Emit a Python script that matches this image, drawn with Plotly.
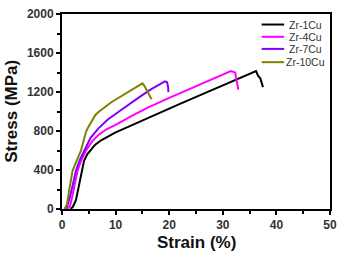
import plotly.graph_objects as go

# ---- data ----
names = ["Zr-1Cu", "Zr-4Cu", "Zr-7Cu", "Zr-10Cu"]
colors = ["#000000", "#FF00FF", "#7F00FF", "#808000"]

strain_1cu = [1.6, 2.0, 2.6, 3.3, 4.1, 4.7, 5.5, 6.2, 7.3, 8.6, 10.0, 11.7, 14.0, 16.0, 18.0,
              20.0, 22.0, 25.0, 28.0, 31.0, 33.7, 34.9, 36.2, 36.6, 37.0, 37.5]
stress_1cu = [0, 20, 90, 291, 492, 560, 620, 660, 705, 744, 785, 827, 885, 935, 983,
              1030, 1078, 1150, 1222, 1295, 1360, 1385, 1415, 1364, 1340, 1250]

strain_4cu = [1.0, 1.5, 2.0, 2.9, 3.6, 4.4, 5.6, 6.8, 8.2, 9.9, 13.2, 16.0, 20.0,
              24.0, 28.0, 30.0, 31.5, 32.3, 32.6, 32.9]
stress_4cu = [0, 30, 150, 392, 500, 593, 693, 760, 815, 861, 960, 1040, 1140,
              1235, 1330, 1378, 1415, 1400, 1320, 1225]

strain_7cu = [0.6, 1.0, 1.6, 2.6, 3.3, 4.1, 5.3, 6.8, 8.5, 10.5, 12.5, 14.5, 16.5, 18.3,
              19.2, 19.6, 19.8, 19.85]
stress_7cu = [0, 30, 150, 392, 500, 593, 727, 827, 915, 995, 1075, 1150, 1225, 1285,
              1310, 1300, 1250, 1199]

strain_10cu = [0.45, 0.9, 1.3, 1.97, 2.7, 3.5, 4.5, 5.0, 6.2, 6.8, 9.2, 12.3, 15.0, 15.4,
               16.0, 16.7]
stress_10cu = [0, 40, 180, 392, 490, 593, 794, 850, 962, 995, 1095, 1196, 1288, 1260,
               1200, 1125]

x_ticks = [0, 10, 20, 30, 40, 50]
y_ticks = [0, 400, 800, 1200, 1600, 2000]

series = [(strain_1cu, stress_1cu), (strain_4cu, stress_4cu),
          (strain_7cu, stress_7cu), (strain_10cu, stress_10cu)]

fig = go.Figure()
for (sx, sy), name, col in zip(series, names, colors):
    fig.add_trace(go.Scatter(x=sx, y=sy, mode="lines", name=name,
                             line=dict(color=col, width=2), showlegend=False))

FONT = "Arial, Liberation Sans, sans-serif"

axis_common = dict(
    showline=True, linecolor="black", linewidth=2, mirror=True,
    ticks="outside", ticklen=4, tickwidth=1.5, tickcolor="black",
    showgrid=False, zeroline=False,
    tickfont=dict(family=FONT, size=12, color="#333333", weight="bold"),
)

fig.update_xaxes(range=[0, 50], tickvals=x_ticks, ticktext=[str(v) for v in x_ticks],
                 minor=dict(ticks="outside", dtick=5, ticklen=3, tickcolor="black", tickwidth=1.5),
                 **axis_common)
fig.update_yaxes(range=[0, 2000], tickvals=y_ticks, ticktext=[str(v) for v in y_ticks],
                 minor=dict(ticks="outside", dtick=200, ticklen=3, tickcolor="black", tickwidth=1.5),
                 **axis_common)

annotations = [
    dict(text="Strain (%)", xref="paper", yref="paper", x=0.502, y=-0.171,
         showarrow=False, xanchor="center", yanchor="middle",
         font=dict(family=FONT, size=17, color="#111111", weight="bold")),
    dict(text="Stress (MPa)", xref="paper", yref="paper", x=-0.191, y=0.5025,
         showarrow=False, xanchor="center", yanchor="middle", textangle=-90,
         font=dict(family=FONT, size=17, color="#111111", weight="bold")),
]
shapes = []
legend_y = [0.946, 0.883, 0.821, 0.753]
for name, col, ly in zip(names, colors, legend_y):
    shapes.append(dict(type="line", xref="paper", yref="paper", x0=0.745, x1=0.829,
                       y0=ly, y1=ly, line=dict(color=col, width=2)))
    annotations.append(dict(text=name, xref="paper", yref="paper", x=0.909, y=ly,
                            showarrow=False, xanchor="center", yanchor="middle",
                            font=dict(family=FONT, size=10.5, color="#333333")))

fig.update_layout(
    width=344, height=256,
    margin=dict(l=62, r=7, t=10, b=47),
    paper_bgcolor="white", plot_bgcolor="white",
    annotations=annotations, shapes=shapes,
    showlegend=False,
)

fig.write_html("out.html")
